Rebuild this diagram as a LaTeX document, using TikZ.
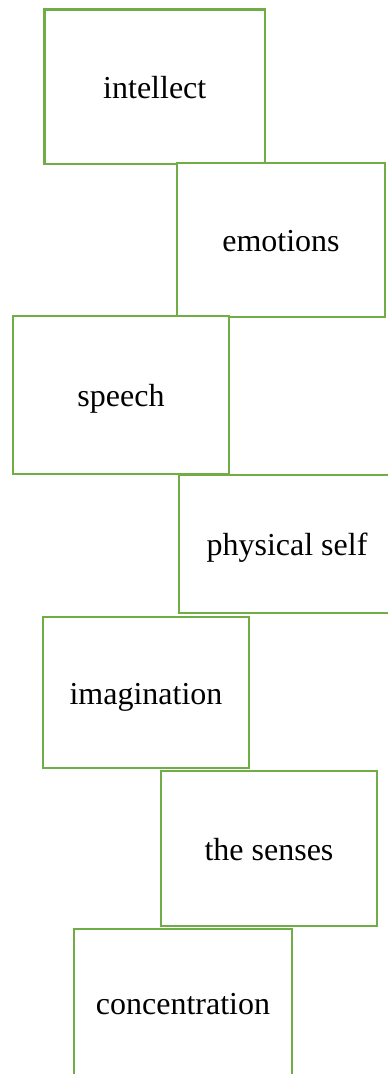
\documentclass[tikz,border=0pt]{standalone}
\usepackage{fontspec}
\setmainfont{Liberation Serif}
\definecolor{boxgreen}{HTML}{70AD47}
\begin{document}
\begin{tikzpicture}[x=1pt,y=-1pt,
  box/.style={draw=boxgreen,line width=2.2pt,fill=white,rectangle,inner sep=0pt,
    text height=23pt,text depth=0pt,
    font=\fontsize{32}{36}\selectfont,text=black}]
\useasboundingbox (0,0) rectangle (388,1074);
\clip (0,0) rectangle (388,1074);
\node[box,minimum width=220.5pt,minimum height=154.5pt] (intellect) at (154.75,86.75) {intellect};
\node[box,minimum width=208pt,minimum height=154.5pt] (emotions) at (281,240) {emotions};
\node[box,minimum width=216pt,minimum height=158pt] (speech) at (121,395) {speech};
\node[box,minimum width=211pt,minimum height=138pt] (physical) at (284.5,544) {\hspace*{5pt}physical self};
\node[box,minimum width=206pt,minimum height=151pt] (imagination) at (146,692.5) {imagination};
\node[box,minimum width=216pt,minimum height=155pt] (senses) at (269,848.5) {the senses};
\node[box,minimum width=218pt,minimum height=148pt] (concentration) at (183,1003) {concentration};
\end{tikzpicture}
\end{document}
